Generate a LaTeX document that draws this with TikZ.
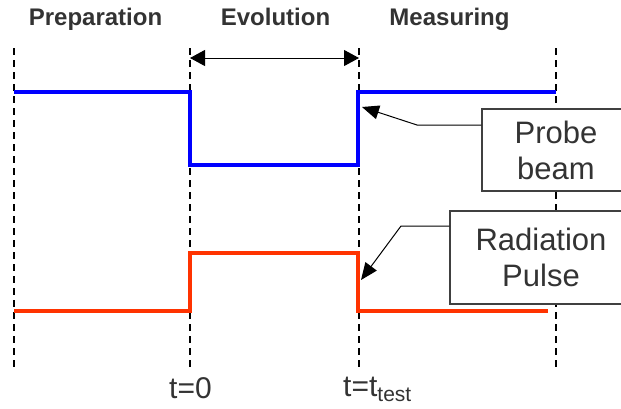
\documentclass[tikz,border=0pt]{standalone}
\usepackage{fontspec}
\setmainfont{Liberation Sans}
\definecolor{probeblue}{RGB}{0,0,255}
\definecolor{pulsered}{RGB}{255,51,0}
\definecolor{labelgray}{RGB}{51,51,51}
\usetikzlibrary{arrows.meta,positioning,calc}

\begin{document}
\begin{tikzpicture}[x=1pt,y=-1pt,
  phase/.style={font=\fontsize{24}{28}\selectfont\bfseries,text=labelgray,anchor=base},
  marker/.style={black,line width=1.5pt,dash pattern=on 7pt off 5pt},
  signal/.style={line width=3.5pt,line join=miter},
  callout/.style={draw=black!75,line width=1.2pt,fill=white,align=center,font=\fontsize{31}{36}\selectfont,text=labelgray,inner sep=0pt},
  pointer/.style={-{Triangle[length=17pt,width=14pt]},line width=1pt},
  tlabel/.style={font=\fontsize{30}{34}\selectfont,text=labelgray,anchor=base}]
  \useasboundingbox (0,0) rectangle (621,408);
  % Phase headers
  \node[phase] (prep) at (95.5,25) {Preparation};
  \node[phase] (evol) at (275.5,25) {Evolution};
  \node[phase] (meas) at (449.5,25) {Measuring};
  % Time markers
  \coordinate (tpre) at (14,48);
  \coordinate (tzero) at (190,48);
  \coordinate (ttest) at (359,48);
  \coordinate (tend) at (556,48);
  \foreach \c in {tpre,tzero,ttest,tend}
    \draw[marker] (\c) -- ++(0,320);
  % Evolution span
  \draw[{Triangle[length=15pt,width=16pt]}-{Triangle[length=15pt,width=16pt]},line width=1pt]
    ($(tzero)+(0,10)$) -- ($(ttest)+(0,10)$);
  % Probe beam
  \draw[signal,probeblue] (14,92) -- (190,92) -- (190,165) -- (358,165) -- (358,92) -- (556,92);
  % Radiation pulse
  \draw[signal,pulsered] (14,311) -- (190,311) -- (190,253) -- (358,253) -- (358,311) -- (548,311);
  % Callouts
  \node[callout,minimum width=148pt,minimum height=82pt] (probe) at (556,150) {Probe\\beam};
  \node[callout,minimum width=182pt,minimum height=93pt] (pulse) at (541,257.5) {Radiation\\Pulse};
  \coordinate (pbend) at (417,125);
  \coordinate (ptip) at (362,107);
  \draw[pointer] (probe.west |- pbend) -- (pbend) -- (ptip);
  \coordinate (rbend) at (401,226);
  \coordinate (rtip) at (361,280);
  \draw[pointer] (pulse.west |- rbend) -- (rbend) -- (rtip);
  % Time labels
  \node[tlabel] (lzero) at (190.5,398) {t=0};
  \node[tlabel] (ltest) at (377.5,396) {t=t\textsubscript{test}};
\end{tikzpicture}
\end{document}
